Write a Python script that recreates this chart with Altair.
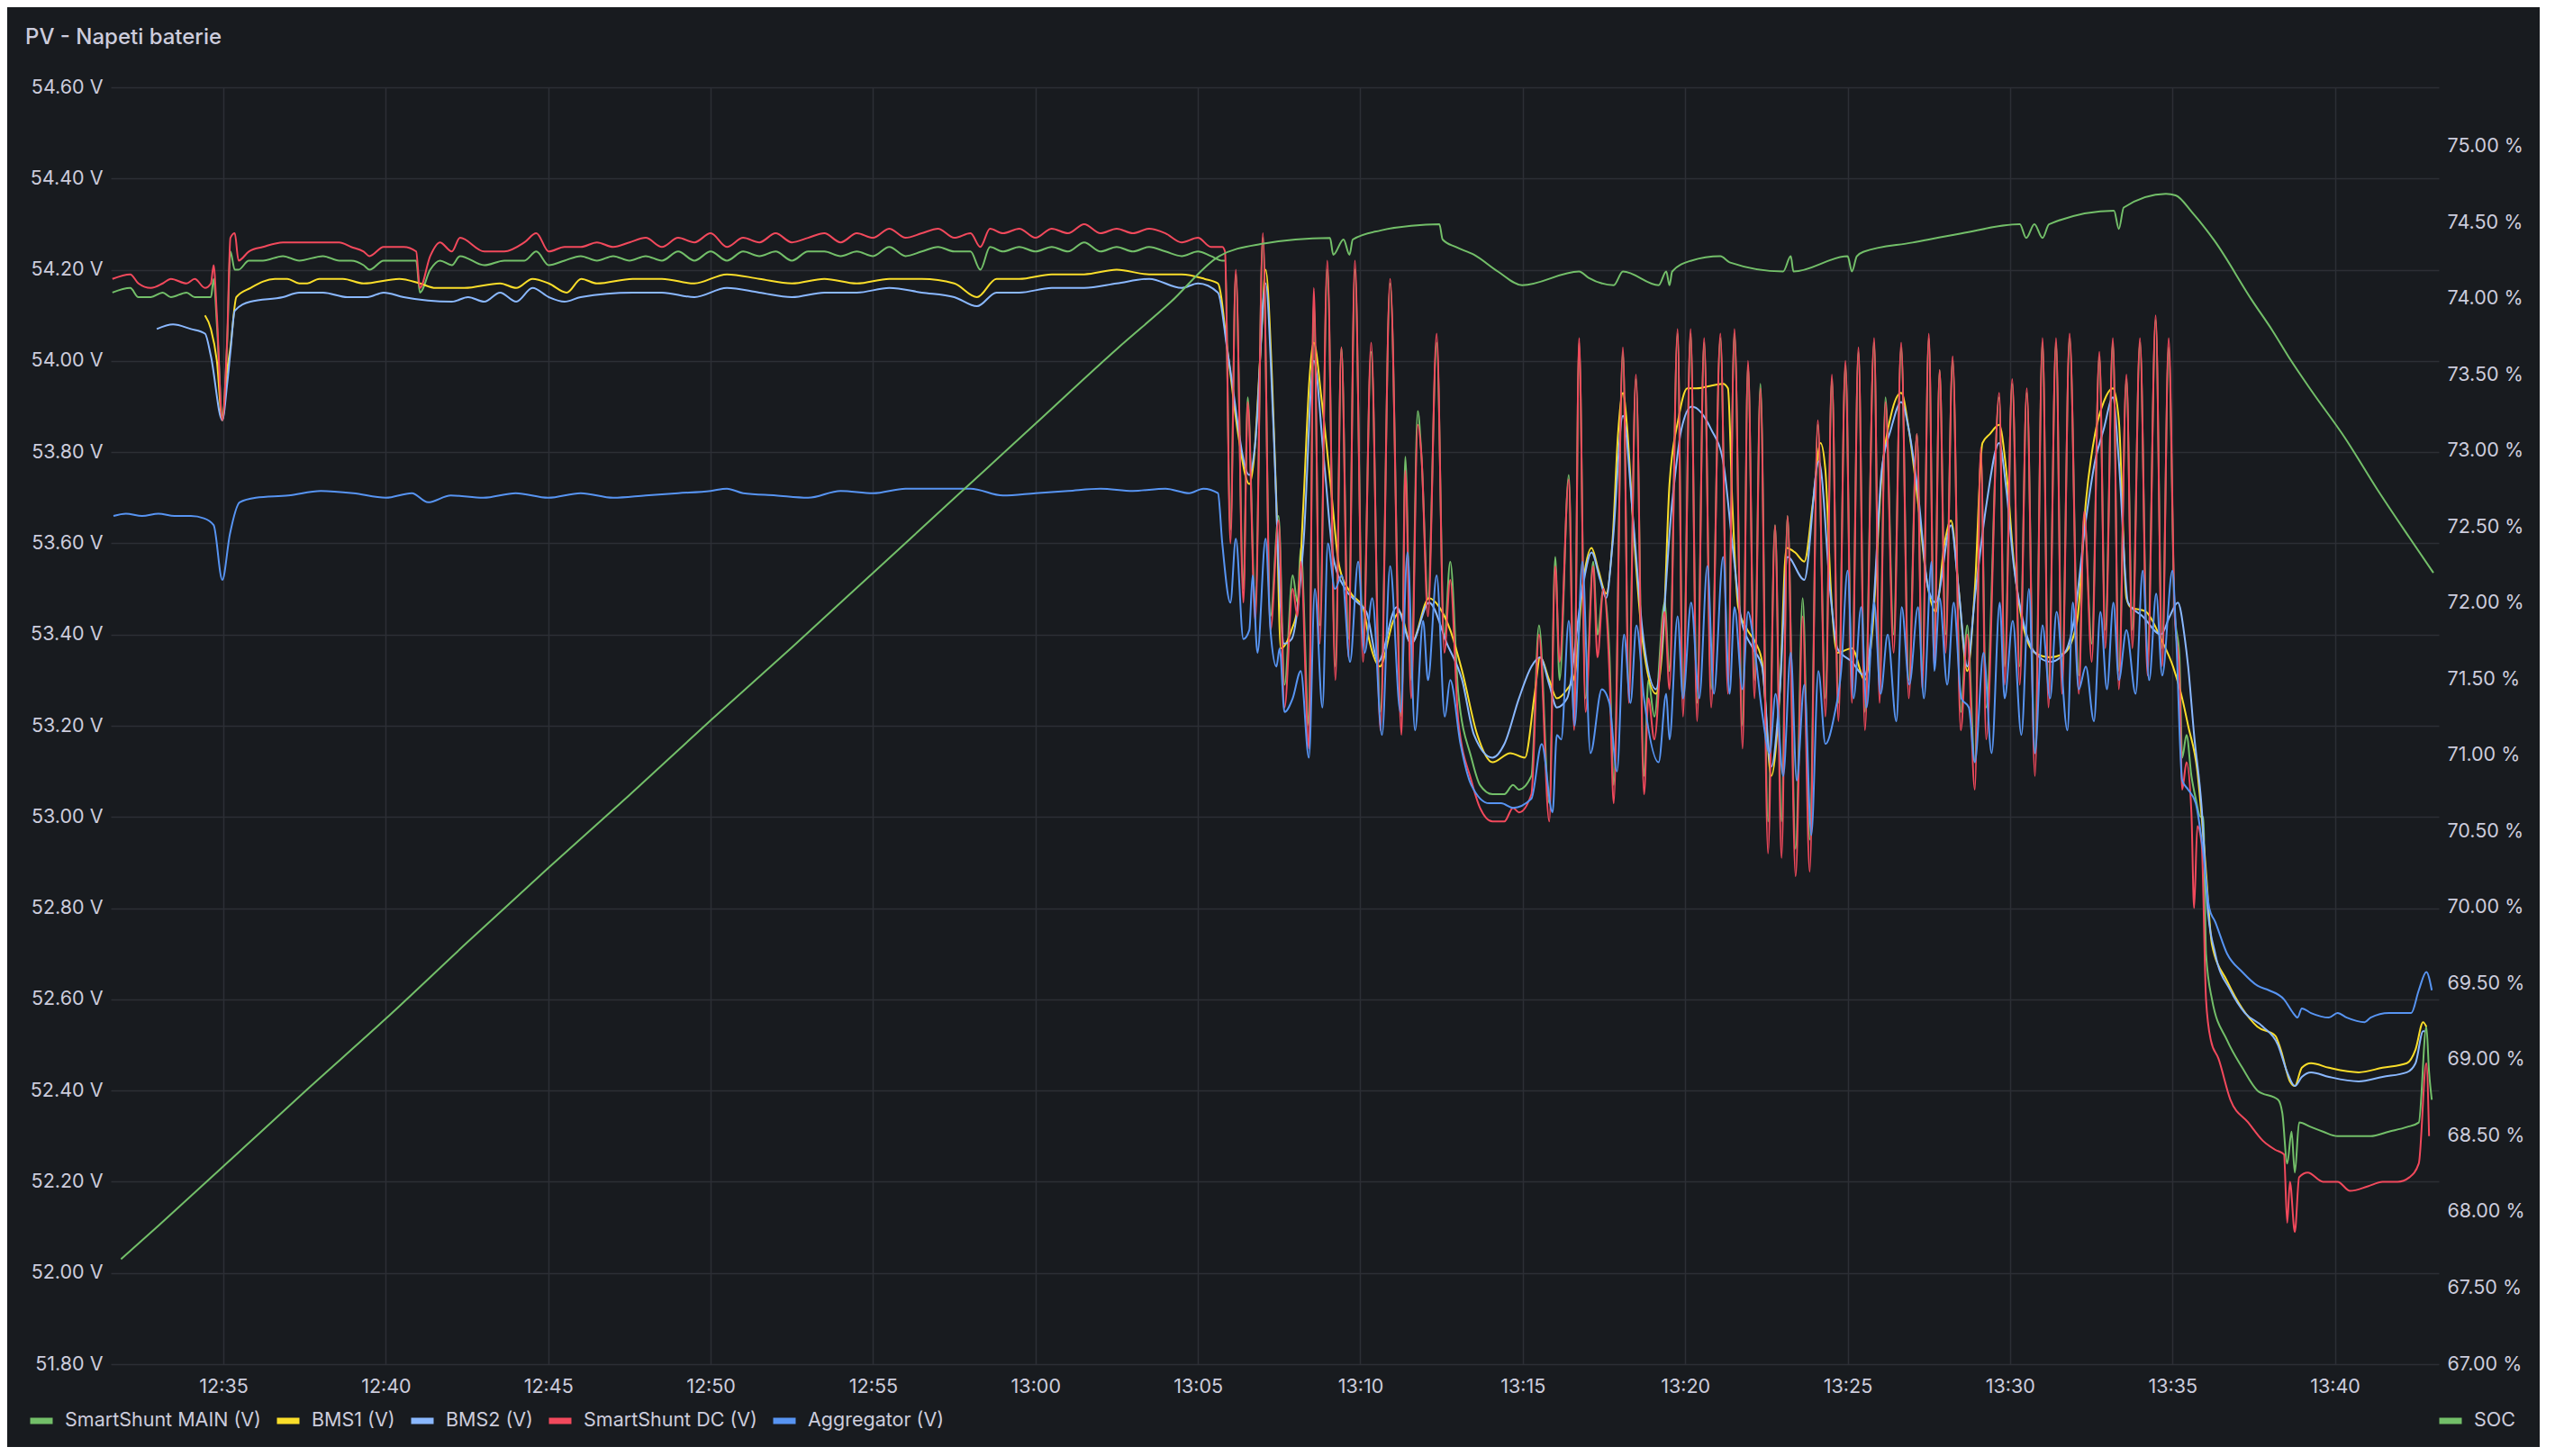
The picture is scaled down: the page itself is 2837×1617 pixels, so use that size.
import altair as alt
import pandas as pd

TITLE = "PV - Napeti baterie"
SERIES = ["SmartShunt MAIN (V)", "BMS1 (V)", "BMS2 (V)", "SmartShunt DC (V)", "Aggregator (V)"]
COLORS = ["#73BF69", "#FADE2A", "#8AB8FF", "#F2495C", "#5794F2"]
SOC_NAME = "SOC"
SOC_COLOR = "#73BF69"

Y_TICKS = [51.8, 52.0, 52.2, 52.4, 52.6, 52.8, 53.0, 53.2, 53.4, 53.6, 53.8, 54.0, 54.2, 54.4, 54.6]
SOC_TICKS = [67.0, 67.5, 68.0, 68.5, 69.0, 69.5, 70.0, 70.5, 71.0, 71.5, 72.0, 72.5, 73.0, 73.5, 74.0, 74.5, 75.0]
X_TICK_MINUTES = [35, 40, 45, 50, 55, 60, 65, 70, 75, 80, 85, 90, 95, 100]  # minutes after 12:00

# (minutes after 12:00, value)
DC = [
    (31.58, 54.18), (32.14, 54.19), (32.39, 54.17), (32.76, 54.16), (33.13, 54.17), (33.38, 54.18),
    (33.87, 54.17), (34.12, 54.18), (34.43, 54.16), (34.62, 54.17), (34.70, 54.21), (34.80, 54.10),
    (34.97, 53.87), (35.12, 54.05), (35.22, 54.27), (35.35, 54.28), (35.47, 54.22), (35.78, 54.24),
    (36.21, 54.25), (36.84, 54.26), (37.33, 54.26), (38.07, 54.26), (38.57, 54.26), (38.94, 54.25),
    (39.31, 54.24), (39.50, 54.23), (39.93, 54.25), (40.55, 54.25), (40.93, 54.24), (41.05, 54.16),
    (41.36, 54.23), (41.67, 54.26), (42.04, 54.24), (42.29, 54.27), (43.03, 54.24), (43.65, 54.24),
    (44.27, 54.26), (44.64, 54.28), (45.01, 54.24), (45.50, 54.25), (46.00, 54.25), (46.50, 54.26),
    (47.00, 54.25), (47.50, 54.26), (48.00, 54.27), (48.50, 54.25), (49.00, 54.27), (49.50, 54.26),
    (50.00, 54.28), (50.50, 54.25), (51.00, 54.27), (51.50, 54.26), (52.00, 54.28), (52.50, 54.26),
    (53.00, 54.27), (53.50, 54.28), (54.00, 54.26), (54.50, 54.28), (55.00, 54.27), (55.50, 54.29),
    (56.00, 54.27), (56.50, 54.28), (57.00, 54.29), (57.50, 54.27), (58.00, 54.28), (58.30, 54.25),
    (58.60, 54.29), (59.00, 54.28), (59.50, 54.29), (60.00, 54.27), (60.50, 54.29), (61.00, 54.28),
    (61.50, 54.30), (62.00, 54.28), (62.50, 54.29), (63.00, 54.28), (63.50, 54.29), (64.00, 54.28),
    (64.50, 54.26), (65.00, 54.27), (65.40, 54.25), (65.75, 54.25), (65.84, 54.24),
    (66.00, 53.60), (66.17, 54.20), (66.40, 53.47), (66.54, 53.91), (66.77, 53.43), (67.00, 54.28),
    (67.23, 53.41), (67.48, 53.65), (67.67, 53.24), (67.92, 53.50), (68.06, 53.44), (68.17, 53.56),
    (68.41, 53.15), (68.57, 54.16), (68.75, 53.38), (68.98, 54.22), (69.23, 53.30), (69.42, 54.03),
    (69.63, 53.35), (69.84, 54.22), (70.09, 53.34), (70.34, 54.04), (70.62, 53.19), (70.92, 54.18),
    (71.26, 53.18), (71.38, 53.76), (71.57, 53.26), (71.77, 53.86), (71.89, 53.79), (72.09, 53.44),
    (72.35, 54.06), (72.58, 53.36), (72.77, 53.52), (73.01, 53.21), (73.41, 53.08), (73.69, 53.02),
    (74.06, 52.99), (74.43, 52.99), (74.70, 53.02), (74.89, 53.01), (75.27, 53.05), (75.50, 53.40),
    (75.82, 52.99), (76.00, 53.55), (76.14, 53.34), (76.42, 53.74), (76.58, 53.19), (76.74, 54.05),
    (76.93, 53.23), (77.16, 53.55), (77.30, 53.35), (77.48, 53.50), (77.67, 53.32), (77.80, 53.03),
    (78.08, 54.03), (78.27, 53.25), (78.48, 53.97), (78.73, 53.05), (78.86, 53.26), (79.05, 53.17),
    (79.37, 53.45), (79.51, 53.28), (79.77, 54.07), (79.94, 53.22), (80.17, 54.07), (80.36, 53.21),
    (80.59, 54.05), (80.80, 53.24), (81.08, 54.06), (81.31, 53.27), (81.51, 54.07), (81.77, 53.15),
    (81.93, 54.00), (82.14, 53.26), (82.32, 53.94), (82.55, 52.92), (82.77, 53.64), (82.97, 52.91),
    (83.15, 53.66), (83.40, 52.87), (83.62, 53.44), (83.83, 52.88), (84.08, 53.87), (84.31, 53.22),
    (84.51, 53.97), (84.72, 53.21), (84.93, 54.00), (85.14, 53.25), (85.33, 54.03), (85.54, 53.19),
    (85.82, 54.05), (85.98, 53.25), (86.17, 53.91), (86.42, 53.36), (86.65, 54.04), (86.88, 53.26),
    (87.13, 53.84), (87.30, 53.28), (87.50, 54.06), (87.67, 53.33), (87.83, 53.98), (88.02, 53.36),
    (88.23, 54.01), (88.48, 53.19), (88.69, 53.40), (88.92, 53.06), (89.10, 53.81), (89.27, 53.17),
    (89.67, 53.93), (89.84, 53.29), (90.07, 53.96), (90.30, 53.29), (90.51, 53.94), (90.77, 53.09),
    (91.00, 54.05), (91.18, 53.24), (91.41, 54.05), (91.60, 53.27), (91.83, 54.06), (92.11, 53.27),
    (92.29, 53.67), (92.52, 53.34), (92.75, 54.02), (92.94, 53.37), (93.17, 54.05), (93.35, 53.28),
    (93.58, 53.97), (93.77, 53.37), (94.00, 54.05), (94.23, 53.31), (94.49, 54.10), (94.69, 53.33),
    (94.88, 54.05), (95.06, 53.45), (95.21, 53.31), (95.30, 53.06), (95.44, 53.12), (95.58, 53.01),
    (95.67, 52.80), (95.76, 52.98), (95.90, 52.94), (96.04, 52.60), (96.18, 52.51), (96.41, 52.47),
    (96.78, 52.38), (97.33, 52.33), (97.79, 52.29), (98.16, 52.27), (98.43, 52.26), (98.53, 52.11),
    (98.62, 52.20), (98.76, 52.09), (98.90, 52.21), (99.17, 52.22), (99.63, 52.20), (100.09, 52.20),
    (100.46, 52.18), (101.01, 52.19), (101.47, 52.20), (101.93, 52.20), (102.30, 52.21), (102.58, 52.24),
    (102.81, 52.46), (102.90, 52.30),
]

MAIN = [
    (31.58, 54.15), (32.14, 54.16), (32.39, 54.14), (32.76, 54.14), (33.13, 54.15), (33.38, 54.14),
    (33.87, 54.15), (34.12, 54.14), (34.43, 54.14), (34.62, 54.14), (34.70, 54.18), (34.80, 54.08),
    (34.97, 53.88), (35.12, 54.04), (35.22, 54.24), (35.35, 54.20), (35.47, 54.20), (35.78, 54.22),
    (36.21, 54.22), (36.84, 54.23), (37.33, 54.22), (38.07, 54.23), (38.57, 54.22), (38.94, 54.22),
    (39.31, 54.21), (39.50, 54.20), (39.93, 54.22), (40.55, 54.22), (40.93, 54.22), (41.05, 54.15),
    (41.36, 54.20), (41.67, 54.22), (42.04, 54.21), (42.29, 54.23), (43.03, 54.21), (43.65, 54.22),
    (44.27, 54.22), (44.64, 54.24), (45.01, 54.21), (45.50, 54.22), (46.00, 54.23), (46.50, 54.22),
    (47.00, 54.23), (47.50, 54.22), (48.00, 54.23), (48.50, 54.22), (49.00, 54.24), (49.50, 54.22),
    (50.00, 54.24), (50.50, 54.22), (51.00, 54.24), (51.50, 54.23), (52.00, 54.24), (52.50, 54.22),
    (53.00, 54.24), (53.50, 54.24), (54.00, 54.23), (54.50, 54.24), (55.00, 54.23), (55.50, 54.25),
    (56.00, 54.23), (56.50, 54.24), (57.00, 54.25), (57.50, 54.24), (58.00, 54.24), (58.30, 54.20),
    (58.60, 54.25), (59.00, 54.24), (59.50, 54.25), (60.00, 54.24), (60.50, 54.25), (61.00, 54.24),
    (61.50, 54.26), (62.00, 54.24), (62.50, 54.25), (63.00, 54.24), (63.50, 54.25), (64.00, 54.24),
    (64.50, 54.23), (65.00, 54.24), (65.40, 54.23), (65.75, 54.22), (65.84, 54.22),
    (66.00, 53.63), (66.17, 54.19), (66.40, 53.50), (66.54, 53.92), (66.77, 53.46), (67.00, 54.27),
    (67.23, 53.44), (67.48, 53.66), (67.67, 53.29), (67.92, 53.53), (68.06, 53.47), (68.17, 53.59),
    (68.41, 53.20), (68.57, 54.13), (68.75, 53.42), (68.98, 54.20), (69.23, 53.33), (69.42, 54.03),
    (69.63, 53.39), (69.84, 54.20), (70.09, 53.38), (70.34, 54.02), (70.62, 53.23), (70.92, 54.17),
    (71.26, 53.22), (71.38, 53.79), (71.57, 53.30), (71.77, 53.89), (71.89, 53.79), (72.09, 53.48),
    (72.35, 54.04), (72.58, 53.39), (72.77, 53.56), (73.01, 53.27), (73.41, 53.13), (73.69, 53.07),
    (74.06, 53.05), (74.43, 53.05), (74.70, 53.07), (74.89, 53.06), (75.27, 53.09), (75.50, 53.42),
    (75.82, 53.03), (76.00, 53.57), (76.14, 53.30), (76.42, 53.75), (76.58, 53.22), (76.74, 54.04),
    (76.93, 53.26), (77.16, 53.56), (77.30, 53.40), (77.48, 53.50), (77.67, 53.36), (77.80, 53.07),
    (78.08, 54.02), (78.27, 53.29), (78.48, 53.96), (78.73, 53.09), (78.86, 53.30), (79.05, 53.22),
    (79.37, 53.47), (79.51, 53.32), (79.77, 54.06), (79.94, 53.26), (80.17, 54.06), (80.36, 53.25),
    (80.59, 54.04), (80.80, 53.28), (81.08, 54.05), (81.31, 53.31), (81.51, 54.06), (81.77, 53.20),
    (81.93, 53.99), (82.14, 53.30), (82.32, 53.95), (82.55, 52.99), (82.77, 53.64), (82.97, 52.99),
    (83.15, 53.66), (83.40, 52.93), (83.62, 53.48), (83.83, 52.95), (84.08, 53.86), (84.31, 53.26),
    (84.51, 53.96), (84.72, 53.25), (84.93, 53.99), (85.14, 53.29), (85.33, 54.02), (85.54, 53.23),
    (85.82, 54.04), (85.98, 53.29), (86.17, 53.92), (86.42, 53.40), (86.65, 54.03), (86.88, 53.30),
    (87.13, 53.84), (87.30, 53.32), (87.50, 54.05), (87.67, 53.37), (87.83, 53.98), (88.02, 53.40),
    (88.23, 54.00), (88.48, 53.23), (88.69, 53.42), (88.92, 53.12), (89.10, 53.80), (89.27, 53.24),
    (89.67, 53.92), (89.84, 53.33), (90.07, 53.95), (90.30, 53.33), (90.51, 53.93), (90.77, 53.14),
    (91.00, 54.04), (91.18, 53.28), (91.41, 54.04), (91.60, 53.31), (91.83, 54.05), (92.11, 53.31),
    (92.29, 53.66), (92.52, 53.38), (92.75, 54.01), (92.94, 53.41), (93.17, 54.04), (93.35, 53.32),
    (93.58, 53.96), (93.77, 53.41), (94.00, 54.04), (94.23, 53.35), (94.49, 54.09), (94.69, 53.37),
    (94.88, 54.03), (95.06, 53.45), (95.21, 53.35), (95.30, 53.13), (95.44, 53.18), (95.58, 53.09),
    (95.72, 53.04), (95.86, 53.00), (95.95, 53.00), (96.04, 52.70), (96.22, 52.60), (96.69, 52.51),
    (97.15, 52.45), (97.61, 52.40), (98.25, 52.38), (98.39, 52.35), (98.53, 52.24), (98.66, 52.31),
    (98.76, 52.22), (98.90, 52.33), (99.26, 52.32), (99.63, 52.31), (100.09, 52.30), (100.55, 52.30),
    (101.10, 52.30), (101.66, 52.31), (102.21, 52.32), (102.58, 52.33), (102.81, 52.54), (102.90, 52.44),
    (102.99, 52.38),
]

BMS1 = [
    (34.43, 54.10), (34.62, 54.07), (34.80, 54.00), (34.97, 53.87), (35.12, 53.98), (35.22, 54.03),
    (35.40, 54.14), (35.84, 54.16), (36.59, 54.18), (36.96, 54.18), (37.33, 54.17), (37.58, 54.17),
    (37.95, 54.18), (38.69, 54.18), (39.31, 54.17), (40.42, 54.18), (41.05, 54.17), (41.54, 54.16),
    (42.41, 54.16), (43.52, 54.17), (44.02, 54.16), (44.52, 54.18), (45.01, 54.17), (45.57, 54.15),
    (46.01, 54.18), (46.50, 54.17), (47.60, 54.18), (48.50, 54.18), (49.50, 54.17), (50.50, 54.19),
    (51.50, 54.18), (52.50, 54.17), (53.50, 54.18), (54.50, 54.17), (55.50, 54.18), (56.50, 54.18),
    (57.50, 54.17), (58.20, 54.14), (58.80, 54.18), (59.50, 54.18), (60.50, 54.19), (61.50, 54.19),
    (62.50, 54.20), (63.50, 54.19), (64.50, 54.19), (65.20, 54.18), (65.62, 54.17),
    (65.94, 54.01), (66.22, 53.85), (66.58, 53.73), (66.72, 53.78), (66.95, 54.05), (67.09, 54.20),
    (67.28, 53.96), (67.42, 53.69), (67.55, 53.37), (67.88, 53.41), (68.06, 53.46), (68.25, 53.69),
    (68.43, 53.96), (68.57, 54.04), (68.80, 53.92), (69.08, 53.73), (69.35, 53.55), (69.72, 53.49),
    (70.09, 53.46), (70.27, 53.39), (70.60, 53.33), (71.01, 53.43), (71.20, 53.45), (71.57, 53.38),
    (72.12, 53.48), (72.44, 53.46), (72.77, 53.41), (73.13, 53.32), (73.60, 53.18), (74.06, 53.12),
    (74.61, 53.14), (75.07, 53.13), (75.36, 53.27), (75.54, 53.35), (75.82, 53.30), (76.05, 53.26),
    (76.37, 53.28), (76.60, 53.31), (76.84, 53.50), (77.11, 53.59), (77.34, 53.54), (77.57, 53.49),
    (77.76, 53.61), (77.94, 53.84), (78.08, 53.93), (78.22, 53.85), (78.40, 53.64), (78.68, 53.39),
    (79.10, 53.27), (79.33, 53.41), (79.51, 53.73), (79.79, 53.87), (80.06, 53.94), (80.34, 53.94),
    (81.17, 53.95), (81.31, 53.94), (81.45, 53.69), (81.63, 53.46), (81.91, 53.41), (82.19, 53.38),
    (82.37, 53.34), (82.65, 53.09), (82.92, 53.28), (83.11, 53.59), (83.38, 53.58), (83.66, 53.56),
    (83.94, 53.69), (84.17, 53.82), (84.31, 53.76), (84.49, 53.50), (84.68, 53.36), (85.14, 53.37),
    (85.54, 53.30), (85.77, 53.41), (86.05, 53.75), (86.33, 53.88), (86.65, 53.93), (86.88, 53.85),
    (87.16, 53.69), (87.44, 53.52), (87.72, 53.45), (87.99, 53.60), (88.18, 53.65), (88.41, 53.50),
    (88.69, 53.32), (88.92, 53.50), (89.15, 53.82), (89.38, 53.84), (89.66, 53.86), (89.89, 53.76),
    (90.12, 53.56), (90.40, 53.42), (90.77, 53.36), (91.23, 53.35), (91.69, 53.36), (92.06, 53.43),
    (92.34, 53.69), (92.61, 53.84), (92.89, 53.91), (93.17, 53.94), (93.35, 53.87), (93.58, 53.48),
    (93.72, 53.46), (94.18, 53.45), (94.65, 53.39), (95.02, 53.33), (95.30, 53.26), (95.49, 53.20),
    (95.76, 53.10), (95.90, 53.00), (96.04, 52.88), (96.22, 52.72), (96.69, 52.64), (97.15, 52.58),
    (97.61, 52.54), (98.16, 52.52), (98.34, 52.49), (98.62, 52.42), (98.76, 52.41), (98.99, 52.45),
    (99.26, 52.46), (99.82, 52.45), (100.74, 52.44), (101.47, 52.45), (102.21, 52.46), (102.49, 52.49),
    (102.72, 52.55), (102.81, 52.54),
]

BMS2 = [
    (32.95, 54.07), (33.45, 54.08), (34.00, 54.07), (34.43, 54.06), (34.62, 54.01), (34.97, 53.87),
    (35.12, 53.95), (35.22, 54.02), (35.35, 54.11), (35.84, 54.13), (36.84, 54.14), (37.33, 54.15),
    (38.07, 54.15), (38.82, 54.14), (39.44, 54.14), (39.93, 54.15), (40.55, 54.14), (42.04, 54.13),
    (42.53, 54.14), (43.03, 54.13), (43.52, 54.15), (44.02, 54.13), (44.52, 54.16), (45.01, 54.14),
    (45.50, 54.13), (46.00, 54.14), (47.60, 54.15), (48.50, 54.15), (49.50, 54.14), (50.50, 54.16),
    (51.50, 54.15), (52.50, 54.14), (53.50, 54.15), (54.50, 54.15), (55.50, 54.16), (56.50, 54.15),
    (57.50, 54.14), (58.20, 54.12), (58.80, 54.15), (59.50, 54.15), (60.50, 54.16), (61.50, 54.16),
    (62.50, 54.17), (63.50, 54.18), (64.50, 54.16), (65.00, 54.17), (65.62, 54.15),
    (65.94, 54.01), (66.58, 53.75), (66.77, 53.82), (67.09, 54.17), (67.32, 53.87), (67.51, 53.50),
    (67.65, 53.38), (67.88, 53.39), (68.25, 53.60), (68.57, 54.00), (68.89, 53.78), (69.17, 53.57),
    (69.54, 53.50), (69.91, 53.47), (70.18, 53.45), (70.55, 53.34), (71.11, 53.46), (71.57, 53.38),
    (72.12, 53.47), (72.67, 53.38), (73.13, 53.30), (73.50, 53.18), (74.06, 53.13), (74.43, 53.16),
    (74.89, 53.26), (75.27, 53.33), (75.54, 53.35), (75.82, 53.29), (76.05, 53.24), (76.37, 53.26),
    (76.84, 53.50), (77.11, 53.58), (77.39, 53.52), (77.57, 53.48), (77.76, 53.60), (78.08, 53.88),
    (78.40, 53.65), (78.68, 53.41), (79.10, 53.28), (79.60, 53.69), (79.88, 53.85), (80.20, 53.90),
    (80.80, 53.85), (81.17, 53.78), (81.45, 53.60), (81.73, 53.43), (82.09, 53.37), (82.37, 53.33),
    (82.65, 53.11), (82.92, 53.28), (83.15, 53.57), (83.66, 53.52), (84.12, 53.78), (84.49, 53.48),
    (84.68, 53.37), (85.14, 53.34), (85.51, 53.31), (85.77, 53.43), (86.05, 53.76), (86.33, 53.85),
    (86.65, 53.91), (86.88, 53.85), (87.16, 53.71), (87.48, 53.50), (87.72, 53.47), (88.18, 53.64),
    (88.41, 53.50), (88.69, 53.33), (88.92, 53.48), (89.29, 53.69), (89.66, 53.82), (89.89, 53.72),
    (90.12, 53.55), (90.40, 53.43), (90.77, 53.36), (91.23, 53.34), (91.69, 53.36), (91.97, 53.43),
    (92.34, 53.65), (92.61, 53.78), (92.89, 53.85), (93.17, 53.92), (93.35, 53.78), (93.63, 53.47),
    (94.09, 53.44), (94.65, 53.40), (94.92, 53.44), (95.16, 53.47), (95.39, 53.39), (95.49, 53.33),
    (95.67, 53.18), (95.90, 53.02), (96.09, 52.80), (96.32, 52.70), (96.78, 52.62), (97.24, 52.57),
    (97.79, 52.54), (98.25, 52.50), (98.53, 52.44), (98.76, 52.41), (98.99, 52.43), (99.26, 52.44),
    (99.82, 52.43), (100.74, 52.42), (101.47, 52.43), (102.21, 52.44), (102.49, 52.46), (102.72, 52.53),
    (102.76, 52.53),
]

AGG = [
    (31.62, 53.66), (32.00, 53.665), (32.50, 53.66), (33.00, 53.665), (33.50, 53.66), (34.00, 53.66),
    (34.40, 53.655), (34.70, 53.64), (34.97, 53.52), (35.20, 53.62), (35.50, 53.69), (36.00, 53.70),
    (37.00, 53.705), (38.00, 53.715), (39.00, 53.71), (40.00, 53.70), (40.80, 53.71), (41.30, 53.69),
    (42.00, 53.705), (43.00, 53.70), (44.00, 53.71), (45.00, 53.70), (46.00, 53.71), (47.00, 53.70),
    (48.00, 53.705), (49.00, 53.71), (50.00, 53.715), (50.50, 53.72), (51.00, 53.71), (52.00, 53.705),
    (53.00, 53.70), (54.00, 53.715), (55.00, 53.71), (56.00, 53.72), (57.00, 53.72), (58.00, 53.72),
    (59.00, 53.705), (60.00, 53.71), (61.00, 53.715), (62.00, 53.72), (63.00, 53.715), (64.00, 53.72),
    (64.74, 53.71), (65.16, 53.72), (65.62, 53.71),
    (65.75, 53.60), (66.00, 53.47), (66.17, 53.61), (66.40, 53.39), (66.58, 53.41), (66.68, 53.53),
    (66.84, 53.36), (67.09, 53.61), (67.23, 53.41), (67.42, 53.33), (67.51, 53.37), (67.67, 53.23),
    (67.92, 53.26), (68.17, 53.32), (68.41, 53.13), (68.60, 53.50), (68.83, 53.24), (69.00, 53.60),
    (69.21, 53.50), (69.44, 53.53), (69.68, 53.34), (69.93, 53.56), (70.14, 53.36), (70.37, 53.48),
    (70.67, 53.18), (70.92, 53.55), (71.24, 53.23), (71.45, 53.58), (71.68, 53.19), (71.94, 53.43),
    (72.09, 53.30), (72.35, 53.53), (72.60, 53.22), (72.77, 53.30), (73.09, 53.16), (73.41, 53.07),
    (73.97, 53.03), (74.33, 53.03), (74.70, 53.02), (75.26, 53.04), (75.59, 53.16), (75.91, 53.01),
    (76.05, 53.18), (76.19, 53.17), (76.42, 53.43), (76.60, 53.20), (76.84, 53.56), (77.09, 53.14),
    (77.43, 53.28), (77.67, 53.25), (77.90, 53.10), (78.11, 53.40), (78.31, 53.25), (78.50, 53.42),
    (78.73, 53.26), (79.19, 53.12), (79.42, 53.27), (79.51, 53.17), (79.77, 53.44), (79.94, 53.26),
    (80.18, 53.47), (80.43, 53.26), (80.68, 53.55), (80.89, 53.27), (81.17, 53.57), (81.36, 53.27),
    (81.52, 53.46), (81.77, 53.28), (81.93, 53.45), (82.14, 53.37), (82.37, 53.23), (82.60, 53.14),
    (82.79, 53.27), (83.02, 53.09), (83.25, 53.36), (83.43, 53.08), (83.66, 53.29), (83.89, 52.96),
    (84.10, 53.32), (84.31, 53.16), (84.58, 53.22), (84.80, 53.32), (85.00, 53.54), (85.18, 53.26),
    (85.41, 53.46), (85.59, 53.24), (85.82, 53.47), (86.01, 53.27), (86.24, 53.40), (86.50, 53.21),
    (86.67, 53.46), (86.90, 53.29), (87.16, 53.46), (87.35, 53.26), (87.58, 53.56), (87.67, 53.32),
    (87.84, 53.48), (88.07, 53.29), (88.27, 53.47), (88.50, 53.26), (88.73, 53.24), (88.92, 53.12),
    (89.18, 53.36), (89.43, 53.14), (89.68, 53.47), (89.84, 53.26), (90.09, 53.43), (90.35, 53.18),
    (90.58, 53.50), (90.77, 53.14), (91.00, 53.42), (91.23, 53.26), (91.43, 53.45), (91.76, 53.19),
    (91.94, 53.47), (92.11, 53.28), (92.34, 53.33), (92.59, 53.21), (92.78, 53.45), (92.98, 53.28),
    (93.19, 53.47), (93.35, 53.30), (93.59, 53.41), (93.86, 53.27), (94.09, 53.54), (94.28, 53.30),
    (94.50, 53.49), (94.68, 53.31), (95.00, 53.54), (95.12, 53.39), (95.30, 53.08), (95.49, 53.06),
    (95.72, 53.03), (95.95, 52.92), (96.13, 52.80), (96.32, 52.77), (96.69, 52.70), (97.15, 52.66),
    (97.61, 52.63), (97.97, 52.62), (98.43, 52.60), (98.71, 52.57), (98.85, 52.56), (98.99, 52.58),
    (99.26, 52.57), (99.82, 52.56), (100.09, 52.57), (100.37, 52.56), (100.92, 52.55), (101.10, 52.56),
    (101.66, 52.57), (102.35, 52.57), (102.58, 52.62), (102.81, 52.66), (102.99, 52.62),
]

SOC = [
    (31.85, 67.69), (33.00, 67.91), (35.00, 68.30), (37.50, 68.79), (40.00, 69.27), (42.50, 69.77),
    (45.00, 70.26), (47.50, 70.74), (50.00, 71.23), (52.50, 71.71), (55.00, 72.20), (57.50, 72.69),
    (60.00, 73.18), (62.50, 73.67), (64.17, 73.98), (65.65, 74.28), (66.94, 74.36), (69.07, 74.40),
    (69.16, 74.29), (69.48, 74.39), (69.67, 74.29), (69.76, 74.39), (70.64, 74.45), (71.56, 74.48),
    (72.44, 74.49), (72.53, 74.39), (72.95, 74.34), (73.50, 74.29), (74.24, 74.18), (74.99, 74.09),
    (76.74, 74.18), (77.02, 74.14), (77.80, 74.09), (78.08, 74.18), (79.19, 74.09), (79.42, 74.18),
    (79.51, 74.09), (79.60, 74.18), (80.16, 74.25), (81.08, 74.28), (81.36, 74.24), (83.02, 74.18),
    (83.25, 74.28), (83.34, 74.18), (85.00, 74.28), (85.14, 74.18), (85.28, 74.28), (85.50, 74.31),
    (87.00, 74.37), (88.50, 74.43), (90.30, 74.49), (90.50, 74.40), (90.75, 74.49), (91.00, 74.40),
    (91.20, 74.49), (93.20, 74.58), (93.35, 74.46), (93.50, 74.60), (94.80, 74.69), (95.10, 74.68),
    (95.60, 74.57), (96.30, 74.38), (97.45, 73.99), (98.09, 73.79), (98.64, 73.60), (99.30, 73.39),
    (100.30, 73.09), (101.30, 72.75), (102.30, 72.43), (103.04, 72.20),
]

BG = "#181b1f"
TXT = "#ccccdc"
GRID = "#2c2f35"
FONT = "Inter"
FS = 21.5

BASE = pd.Timestamp("2024-01-01 12:00:00")


def frame(name, pairs):
    t = [p[0] for p in pairs]
    v = [p[1] for p in pairs]
    ts = (BASE + pd.to_timedelta(t, unit="m")).round("s")
    return pd.DataFrame({"time": ts.strftime("%Y-%m-%dT%H:%M:%S"), "value": v, "series": name})


def dt(total_min, sec=0):
    return alt.DateTime(year=2024, month=1, date=1, hours=12 + total_min // 60,
                        minutes=total_min % 60, seconds=sec)


x_enc = alt.X(
    "time:T",
    title=None,
    scale=alt.Scale(domain=[dt(31, 32), dt(103, 12)]),
    axis=alt.Axis(values=[dt(m) for m in X_TICK_MINUTES], format="%H:%M", grid=True,
                  gridColor=GRID, gridWidth=1.5, ticks=False, domain=False, labelPadding=14,
                  labelColor=TXT, labelFont=FONT, labelFontSize=FS, labelFlush=False),
)

y_enc = alt.Y(
    "value:Q",
    title=None,
    scale=alt.Scale(domain=[51.8, 54.6], nice=False, zero=False),
    axis=alt.Axis(values=Y_TICKS, labelExpr="format(datum.value, '.2f') + ' V'", grid=True,
                  gridColor=GRID, gridWidth=1.5, ticks=False, domain=False, labelPadding=9,
                  labelColor=TXT, labelFont=FONT, labelFontSize=FS, labelFlush=False),
)

color_enc = alt.Color(
    "series:N",
    scale=alt.Scale(domain=SERIES, range=COLORS),
    legend=alt.Legend(orient="none", legendX=-93, legendY=1465, direction="horizontal",
                      title=None, symbolType="stroke", symbolSize=625, symbolStrokeWidth=7,
                      labelColor=TXT, labelFont=FONT, labelFontSize=FS, labelOffset=10,
                      columnPadding=3, labelLimit=0),
)

volt_layers = []
for name, pairs in zip(SERIES, [MAIN, BMS1, BMS2, DC, AGG]):
    volt_layers.append(
        alt.Chart(frame(name, pairs))
        .mark_line(interpolate="monotone", strokeWidth=2)
        .encode(x=x_enc, y=y_enc, color=color_enc)
    )
volts = alt.layer(*volt_layers)

soc = (
    alt.Chart(frame(SOC_NAME, SOC))
    .mark_line(interpolate="monotone", strokeWidth=2)
    .encode(
        x=x_enc,
        y=alt.Y("value:Q", title=None,
                scale=alt.Scale(domain=[67.0, 75.39], nice=False, zero=False),
                axis=alt.Axis(orient="right", values=SOC_TICKS,
                              labelExpr="format(datum.value, '.2f') + ' %'", grid=False,
                              ticks=False, domain=False, labelPadding=9, labelColor=TXT,
                              labelFont=FONT, labelFontSize=FS, labelFlush=False)),
        color=alt.Color("series:N", scale=alt.Scale(domain=[SOC_NAME], range=[SOC_COLOR]),
                        legend=alt.Legend(orient="none", legendX=2582, legendY=1465,
                                          title=None, symbolType="stroke", symbolSize=625,
                                          symbolStrokeWidth=7, labelColor=TXT, labelFont=FONT,
                                          labelFontSize=FS, labelOffset=10)),
    )
)

chart = (
    alt.layer(volts, soc)
    .resolve_scale(y="independent", color="independent")
    .properties(
        width=2585,
        height=1418,
        autosize=alt.AutoSizeParams(type="none"),
        padding={"left": 115, "top": 89, "right": 112, "bottom": 92},
        background=BG,
        title=alt.TitleParams(TITLE, anchor="start", frame="group", dx=-95, offset=32,
                              fontSize=24, font=FONT, fontWeight=500, color=TXT),
    )
    .configure_view(stroke=None)
)

chart.save("out.html", embed_options={"renderer": "svg", "actions": False})
